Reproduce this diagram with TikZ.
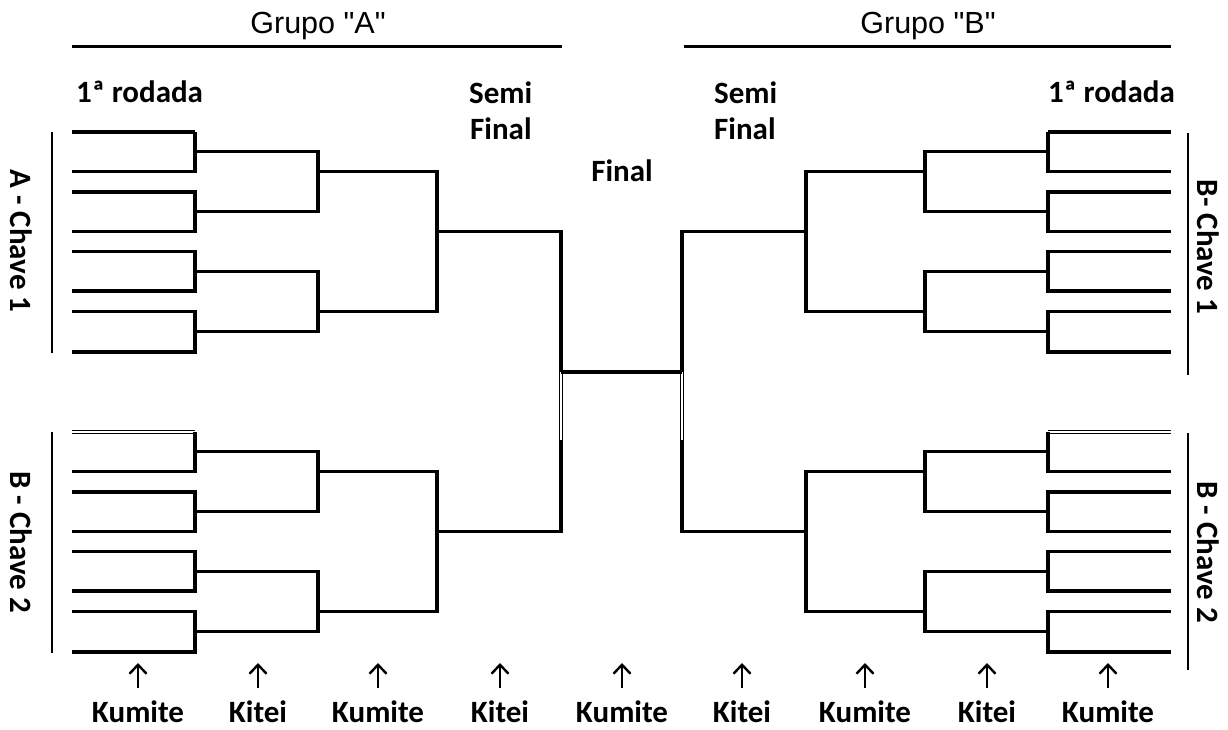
\documentclass[tikz,border=0pt]{standalone}
\usepackage{fontspec}
\setmainfont{Carlito}
\newfontfamily\grpfont{Liberation Sans}
\usetikzlibrary{arrows.meta}

% One eight-entry bracket (four first-round bouts), drawn from the left.
% #1 is the style of its topmost line.
\newcommand\bracketblock[1]{%
  \draw[#1] (72,0) -- (195,0);
  \draw[br] (195,0) -- (195,39.5) -- (72,39.5);
  \draw[br] (72,60) -- (195,60) -- (195,99.5) -- (72,99.5);
  \draw[br] (72,119.5) -- (195,119.5) -- (195,159) -- (72,159);
  \draw[br] (72,179.5) -- (195,179.5) -- (195,220) -- (72,220);
  \draw[br] (195,19.75) -- (318,19.75) -- (318,79.75) -- (195,79.75);
  \draw[br] (195,139.25) -- (318,139.25) -- (318,199.75) -- (195,199.75);
  \draw[br] (318,39.5) -- (437,39.5) -- (437,179.5) -- (318,179.5);
}

% One group: two blocks joined to the final line.
\newcommand\groupside{%
  \begin{scope}[shift={(0,132)}]
    \bracketblock{br}
  \end{scope}
  \begin{scope}[shift={(0,432)}]
    \bracketblock{hollow}
  \end{scope}
  \draw[br] (437,231.5) -- (561,231.5) -- (561,372);
  \draw[hollow] (561,372) -- (561,440);
  \draw[br] (561,440) -- (561,531.5) -- (437,531.5);
}

\begin{document}
\begin{tikzpicture}[x=1pt,y=-1pt,
  br/.style={line width=3.2pt, line join=miter},
  hollow/.style={line width=0.8pt, double=white, double distance=1.6pt},
  bar/.style={line width=2.6pt},
  lbl/.style={font=\bfseries\fontsize{31}{36}\selectfont, inner sep=0pt},
  grp/.style={font=\grpfont\fontsize{30.5}{36}\selectfont, inner sep=0pt},
  side/.style={font=\bfseries\fontsize{31}{36}\selectfont, inner sep=0pt, rotate=-90},
  uparr/.style={line width=2.4pt, -{Straight Barb[length=9pt,width=17pt,line width=2.4pt]}}]

\useasboundingbox[fill=white] (0,0) rectangle (1228,730);

% brackets
\groupside
\begin{scope}[shift={(1243,0)}, xscale=-1]
  \groupside
\end{scope}
\draw[br] (561,372) -- (682,372);

% group headers
\draw[line width=3pt] (72,47) -- (562,47);
\draw[line width=3pt] (684,47) -- (1171,47);
\node[grp, anchor=base] (ga) at (318,34) {Grupo "A"};
\node[grp, anchor=base] (gb) at (928,34) {Grupo "B"};

% round titles
\node[lbl, anchor=base west] (r1a) at (76,103) {1ª rodada};
\node[lbl, anchor=base west] (sa1) at (469,104) {Semi};
\node[lbl, anchor=base west] (sa2) at (470,140) {Final};
\node[lbl, anchor=base] (fin) at (622,182) {Final};
\node[lbl, anchor=base west] (sb1) at (714,104) {Semi};
\node[lbl, anchor=base west] (sb2) at (714,140) {Final};
\node[lbl, anchor=base east] (r1b) at (1175,103) {1ª rodada};

% key bars and names
\draw[bar] (52,132) -- (52,353);
\draw[bar] (52,432) -- (52,653);
\draw[bar] (1188,133) -- (1188,375);
\draw[bar] (1188,433) -- (1188,670);
\node[side] (ka1) at (21,241) {A - Chave 1};
\node[side] (ka2) at (21,542) {B - Chave 2};
\node[side] (kb1) at (1208,247) {B- Chave 1};
\node[side] (kb2) at (1208,552) {B - Chave 2};

% style of each round
\foreach \x/\t [count=\i] in {138/Kumite, 258/Kitei, 378/Kumite, 500/Kitei,
    622/Kumite, 742/Kitei, 865/Kumite, 987/Kitei, 1108/Kumite} {
  \node[lbl, anchor=base] (kind\i) at (\x,722) {\t};
  \coordinate (foot\i) at (\x,688);
  \coordinate (tip\i) at (\x,663);
  \draw[uparr] (foot\i) -- (tip\i);
}
\end{tikzpicture}
\end{document}
